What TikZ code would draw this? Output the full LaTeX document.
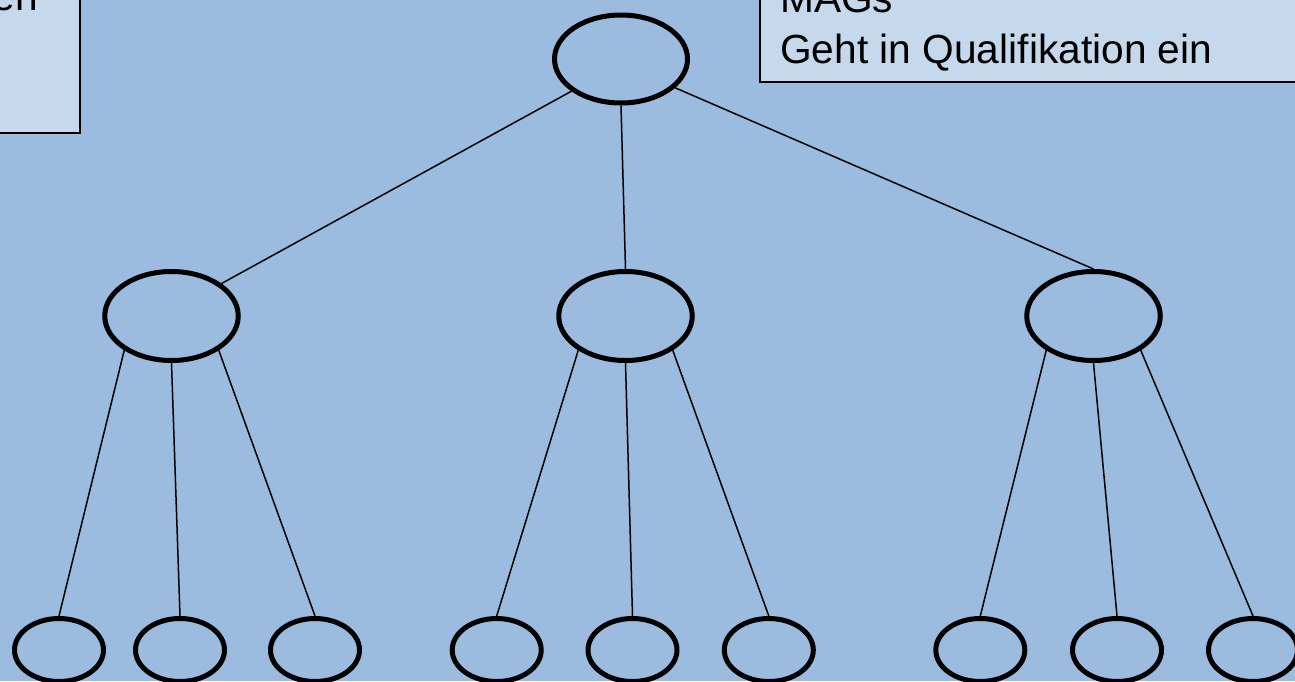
\documentclass[tikz,border=0pt]{standalone}
\usepackage{fontspec}
\setmainfont{Liberation Sans}
\usetikzlibrary{shapes.geometric}
\definecolor{bg}{RGB}{155,187,223}
\definecolor{boxfill}{RGB}{197,216,236}
\begin{document}
\begin{tikzpicture}[x=1pt,y=-1pt,
  oval/.style={ellipse,draw=black,line width=5pt,inner sep=0pt},
  big/.style={oval,minimum width=133.5pt,minimum height=89pt},
  small/.style={oval,minimum width=89pt,minimum height=63pt},
  edge/.style={draw=black,line width=1.5pt},
  box/.style={draw=black,line width=2.2pt,fill=boxfill},
  txt/.style={font=\fontsize{40.7}{49}\selectfont,inner sep=0pt,text=black}]
\useasboundingbox (0,0) rectangle (1295,681);
\clip (0,0) rectangle (1295,681);
\fill[bg] (0,0) rectangle (1295,681);
% text boxes (cut by the frame)
\draw[box] (-20,-20) rectangle (80,133);
\node[txt,anchor=base east] (t1) at (38,10) {en};
\draw[box] (760,-20) rectangle (1320,82);
\node[txt,anchor=base west] (t2) at (780,12) {MAGs};
\node[txt,anchor=base west] (t3) at (780,63) {Geht in Qualifikation ein};
% tree nodes
\node[big,minimum width=133pt,minimum height=88pt] (r) at (621,59) {};
\node[big] (a) at (171.5,316) {};
\node[big] (b) at (625.5,316) {};
\node[big] (c) at (1093.5,316) {};
\node[small] (a1) at (59,650) {};
\node[small] (a2) at (180,650) {};
\node[small] (a3) at (315,650) {};
\node[small] (b1) at (496.7,650) {};
\node[small] (b2) at (632.5,650) {};
\node[small] (b3) at (768.8,650) {};
\node[small] (c1) at (980.3,650) {};
\node[small] (c2) at (1117,650) {};
\node[small] (c3) at (1253,650) {};
% connectors
\draw[edge] (r.213.7) -- (a.33.4);
\draw[edge] (r.south) -- (b.north);
\draw[edge] (r.332) -- (c.north);
\foreach \p in {a,b,c}{
  \draw[edge] (\p.216) -- (\p1.north);
  \draw[edge] (\p.south) -- (\p2.north);
  \draw[edge] (\p.324) -- (\p3.north);
}
\end{tikzpicture}
\end{document}
